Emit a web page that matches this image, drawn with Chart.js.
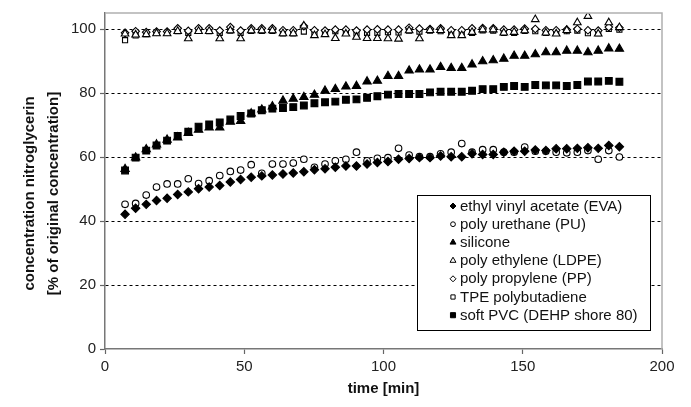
<!DOCTYPE html>
<html>
<head>
<meta charset="utf-8">
<script src="https://cdn.jsdelivr.net/npm/chart.js@4/dist/chart.umd.min.js"></script>
<style>
  html, body { margin: 0; padding: 0; background: #fff; }
  #wrap { width: 691px; height: 407px; position: relative; }
</style>
</head>
<body>
<div id="wrap"><canvas id="chart"></canvas></div>
<script>
// tiempos de muestreo (min)
const tiempos = [7.2, 11.0, 14.8, 18.5, 22.3, 26.1, 29.9, 33.6, 37.4, 41.2, 45.0, 48.7,
  52.5, 56.3, 60.1, 63.9, 67.6, 71.4, 75.2, 79.0, 82.7, 86.5, 90.3, 94.1,
  97.8, 101.6, 105.4, 109.2, 112.9, 116.7, 120.5, 124.3, 128.1, 131.8, 135.6, 139.4,
  143.2, 146.9, 150.7, 154.5, 158.3, 162.0, 165.8, 169.6, 173.4, 177.1, 180.9, 184.7];

// concentracion nitroglicerina [% del original]
const eva = [42.1, 44.0, 45.2, 46.4, 47.1, 48.3, 49.1, 50.1, 50.6, 51.1, 52.2, 53.0,
  53.7, 54.1, 54.4, 54.7, 55.0, 55.4, 56.0, 56.3, 56.8, 57.2, 57.2, 57.8,
  58.3, 58.6, 59.3, 59.5, 59.8, 59.8, 60.3, 60.1, 60.1, 61.0, 60.8, 60.8,
  61.5, 61.8, 61.8, 62.2, 62.0, 62.6, 62.6, 62.7, 62.9, 62.7, 63.6, 63.2];
const pu = [45.2, 45.5, 48.1, 50.6, 51.6, 51.6, 53.2, 51.7, 52.6, 54.2, 55.5, 55.9,
  57.6, 54.9, 57.8, 57.8, 58.1, 59.3, 56.8, 57.8, 58.8, 59.3, 61.5, 58.8,
  59.6, 59.8, 62.7, 60.6, 60.1, 60.1, 61.0, 61.5, 64.2, 61.5, 62.3, 62.3,
  61.5, 61.5, 63.1, 61.8, 61.8, 61.5, 61.3, 61.5, 62.0, 59.3, 62.0, 60.0];
const silicona = [56.2, 59.8, 62.4, 63.9, 65.4, 66.1, 67.5, 68.5, 69.2, 69.2, 71.0, 71.2,
  73.6, 74.8, 75.8, 77.6, 78.2, 78.7, 79.4, 80.7, 81.2, 82.0, 82.2, 83.6,
  83.8, 85.3, 85.3, 87.0, 87.3, 87.3, 88.1, 87.8, 87.8, 88.9, 89.9, 90.2,
  90.7, 91.6, 91.6, 92.1, 92.7, 92.7, 93.2, 93.2, 92.7, 93.2, 93.9, 93.8];
const ldpe = [98.5, 98.2, 98.3, 98.6, 98.6, 99.3, 97.0, 99.3, 99.3, 97.0, 99.5, 97.0,
  99.5, 99.5, 99.5, 98.6, 98.6, 101.0, 98.0, 98.3, 97.1, 98.5, 97.5, 97.1,
  97.1, 97.0, 96.9, 99.5, 97.0, 99.6, 99.6, 98.0, 98.0, 99.0, 99.8, 99.8,
  98.8, 99.0, 99.5, 103.0, 98.8, 98.5, 99.6, 102.0, 104.0, 98.5, 102.0, 100.5];
const pp = [98.8, 99.3, 99.0, 99.2, 99.2, 100.2, 99.4, 100.2, 100.2, 99.5, 100.6, 99.5,
  100.2, 100.2, 100.2, 99.6, 99.6, 100.9, 99.6, 99.5, 99.8, 99.8, 99.5, 99.8,
  99.9, 99.8, 99.8, 100.4, 100.1, 100.0, 100.2, 99.6, 99.6, 100.2, 100.3, 100.2,
  99.8, 99.8, 100.1, 100.0, 99.6, 99.6, 99.8, 100.0, 99.6, 99.5, 100.6, 100.4];
const tpe = [96.5, 98.0, 98.4, 98.8, 98.8, 99.3, 98.8, 99.4, 99.3, 98.8, 99.5, 98.8,
  99.4, 99.4, 99.4, 98.6, 98.6, 99.2, 98.7, 98.7, 99.3, 98.8, 98.6, 98.8,
  98.8, 99.0, 98.9, 99.5, 99.2, 99.5, 99.3, 98.7, 98.7, 98.8, 99.6, 99.5,
  98.8, 98.8, 99.4, 99.3, 98.8, 98.8, 99.3, 99.5, 98.7, 98.7, 100.0, 99.8];
const pvc = [55.8, 59.8, 62.0, 63.6, 65.1, 66.6, 67.9, 69.5, 70.2, 70.8, 71.7, 72.8,
  73.6, 74.6, 75.1, 75.3, 75.6, 76.1, 76.8, 77.1, 77.3, 77.9, 78.0, 78.5,
  79.0, 79.5, 79.7, 79.7, 79.7, 80.2, 80.4, 80.4, 80.4, 80.7, 81.2, 81.2,
  81.9, 82.2, 81.9, 82.5, 82.4, 82.4, 82.2, 82.5, 83.6, 83.6, 83.8, 83.5];

const xTicks = [0, 50, 100, 150, 200];
const yTicks = [0, 20, 40, 60, 80, 100];

const series = [
  { label: "ethyl vinyl acetate (EVA)", data: eva, style: "rectRot", r: 4.2, filled: true, lr: 3 },
  { label: "poly urethane (PU)", data: pu, style: "circle", r: 3.3, filled: false, lr: 2.4 },
  { label: "silicone", data: silicona, style: "triangle", r: 4.8, filled: true, lr: 3.4 },
  { label: "poly ethylene (LDPE)", data: ldpe, style: "triangle", r: 4.4, filled: false, lr: 3.4 },
  { label: "poly propylene (PP)", data: pp, style: "rectRot", r: 3.8, filled: false, lr: 3 },
  { label: "TPE polybutadiene", data: tpe, style: "rect", r: 3.6, filled: false, lr: 3 },
  { label: "soft PVC (DEHP shore 80)", data: pvc, style: "rect", r: 4.8, filled: true, lr: 3.6 }
];

function puntos(valores) {
  return valores.map((v, i) => ({ x: tiempos[i], y: v }));
}

const datasets = series.map(s => ({
  label: s.label,
  data: puntos(s.data),
  pointStyle: s.style,
  pointRadius: s.r,
  pointBorderWidth: 1.1,
  pointBorderColor: "#000",
  pointBackgroundColor: s.filled ? "#000" : "#fff",
  showLine: false
}));

// marco gris arriba y derecha + leyenda dentro del area
const marcoLeyenda = {
  id: "marcoLeyenda",
  afterDraw(chart) {
    const { ctx, chartArea: a } = chart;
    ctx.save();
    ctx.strokeStyle = "#b0b0b0";
    ctx.lineWidth = 1.5;
    ctx.beginPath();
    ctx.moveTo(a.left, a.top);
    ctx.lineTo(a.right, a.top);
    ctx.lineTo(a.right, a.bottom);
    ctx.stroke();

    // leyenda
    const bx = 417, by = 195, bw = 233, bh = 135;
    ctx.fillStyle = "#fff";
    ctx.fillRect(bx, by, bw, bh);
    ctx.strokeStyle = "#000";
    ctx.lineWidth = 1;
    ctx.strokeRect(bx + 0.5, by + 0.5, bw, bh);
    ctx.font = "15px 'Liberation Sans', Arial, sans-serif";
    ctx.textBaseline = "middle";
    series.forEach((s, i) => {
      const y = 206 + i * 18.2;
      ctx.fillStyle = s.filled ? "#000" : "#fff";
      ctx.strokeStyle = "#000";
      Chart.helpers.drawPoint(ctx, { pointStyle: s.style, radius: s.lr, borderWidth: 1, rotation: 0 }, 453, y);
      ctx.fillStyle = "#111";
      ctx.fillText(s.label, 460, y + 0.5);
    });
    ctx.restore();
  }
};

const fuente = "'Liberation Sans', Arial, sans-serif";

new Chart(document.getElementById("chart"), {
  type: "scatter",
  data: { datasets },
  options: {
    responsive: true,
    maintainAspectRatio: false,
    animation: false,
    layout: { padding: { top: 5, right: 29, left: 0, bottom: 0 } },
    plugins: { legend: { display: false }, tooltip: { enabled: false } },
    scales: {
      x: {
        type: "linear",
        min: 0, max: 200,
        afterBuildTicks: sc => { sc.ticks = xTicks.map(v => ({ value: v })); },
        afterFit: sc => { sc.height = 58; },
        ticks: { color: "#222", font: { family: fuente, size: 15 }, padding: 4, maxRotation: 0 },
        grid: { drawOnChartArea: false, drawTicks: true, tickLength: 5, tickColor: "#666", tickWidth: 1.2 },
        border: { color: "#777", width: 1.5 },
        title: {
          display: true, text: "time [min]", color: "#111",
          font: { family: fuente, size: 15, weight: "bold" }, padding: { top: 0, bottom: 9 }
        }
      },
      y: {
        type: "linear",
        min: 0, max: 105,
        afterBuildTicks: sc => { sc.ticks = yTicks.map(v => ({ value: v })); },
        afterFit: sc => { sc.width = 105; },
        ticks: { color: "#222", font: { family: fuente, size: 15 }, padding: 4 },
        grid: {
          color: ctx => ctx.tick && ctx.tick.value === 0 ? "rgba(0,0,0,0)" : "#000",
          lineWidth: 1, drawTicks: true, tickLength: 5,
          tickColor: "#666", tickWidth: 1.2, tickBorderDash: []
        },
        border: { color: "#777", width: 1.5, dash: [3, 3] },
        title: {
          display: true, text: ["concentration nitroglycerin      ", "[% of original concentration]      "],
          color: "#111", font: { family: fuente, size: 15, weight: "bold", lineHeight: 1.6 },
          padding: { top: 18, bottom: 0 }
        }
      }
    }
  },
  plugins: [marcoLeyenda]
});
</script>
</body>
</html>
